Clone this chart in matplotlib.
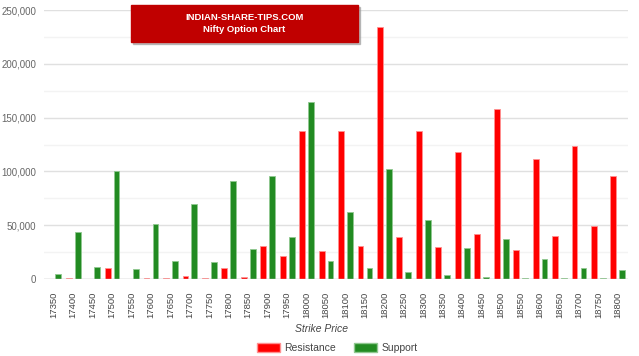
import numpy as np
import matplotlib
matplotlib.use("Agg")
import matplotlib.pyplot as plt
from matplotlib.patches import Rectangle, Patch
from matplotlib.ticker import FuncFormatter, MultipleLocator

plt.rcParams['font.family'] = ['Liberation Sans', 'DejaVu Sans']

# strike prices
strikes = [17350, 17400, 17450, 17500, 17550, 17600, 17650, 17700, 17750, 17800,
           17850, 17900, 17950, 18000, 18050, 18100, 18150, 18200, 18250, 18300,
           18350, 18400, 18450, 18500, 18550, 18600, 18650, 18700, 18750, 18800]

# call OI (resistance)
resistance = [0, 500, 0, 10500, 0, 1000, 500, 3000, 700, 10500,
              1800, 30700, 21000, 138000, 26000, 138000, 31000, 234000, 39000, 137500,
              29700, 118000, 42000, 158000, 27000, 111500, 40000, 123500, 49000, 96000]

# put OI (support)
support = [5000, 44000, 11000, 100500, 9300, 51000, 16400, 69400, 15800, 91300,
           27900, 95400, 39000, 164700, 16400, 62000, 10500, 102000, 6200, 55000,
           3700, 28500, 1900, 37500, 600, 18900, 600, 10500, 800, 8000]

red = '#ff0000'
green = '#228b22'

fig = plt.figure(figsize=(6.39, 3.56), dpi=100)
ax = fig.add_axes([44 / 639, 77 / 356, 583.6 / 639, 269 / 356])

x = np.arange(len(strikes))
bw = 0.3
ax.bar(x - 0.23, resistance, bw, color=red, edgecolor='#ff9090', linewidth=0.6, zorder=3)
ax.bar(x + 0.23, support, bw, color=green, edgecolor='#90c890', linewidth=0.6, zorder=3)

ax.set_xlim(-0.5, len(strikes) - 0.5)
ax.set_ylim(0, 250000)

# grid
ax.yaxis.set_major_locator(MultipleLocator(50000))
ax.yaxis.set_minor_locator(MultipleLocator(25000))
ax.grid(axis='y', which='major', color='#e0e0e0', linewidth=1, zorder=0)
ax.grid(axis='y', which='minor', color='#f3f3f3', linewidth=1, zorder=0)
ax.axhline(0, color='#cccccc', linewidth=1, zorder=4)

for s in ax.spines.values():
    s.set_visible(False)

ax.yaxis.set_major_formatter(FuncFormatter(lambda v, p: '{:,.0f}'.format(v)))
ax.tick_params(axis='y', which='both', length=0, labelsize=7, labelcolor='#666666', pad=5.5)
ax.set_xticks(x)
ax.set_xticklabels([str(s) for s in strikes], rotation=90)
ax.tick_params(axis='x', length=0, labelsize=6.8, labelcolor='#444444', pad=9)

# axis title
fig.text(322 / 639, 1 - 329 / 356, 'Strike Price', fontsize=7.5, style='italic',
         color='#444444', ha='center', va='center')

# title box
fig.patches.append(Rectangle((133 / 639, 1 - 44 / 356), 227 / 639, 37 / 356,
                             transform=fig.transFigure, color='#999999', alpha=0.6, zorder=5))
fig.patches.append(Rectangle((131 / 639, 1 - 42 / 356), 227 / 639, 37 / 356,
                             transform=fig.transFigure, color='#c00000', zorder=6))
fig.text(244.5 / 639, 1 - 17.5 / 356, 'INDIAN-SHARE-TIPS.COM', color='white', fontsize=6.8,
         fontweight='bold', ha='center', va='center', zorder=7)
fig.text(244.5 / 639, 1 - 29 / 356, 'Nifty Option Chart', color='white', fontsize=6.8,
         fontweight='bold', ha='center', va='center', zorder=7)

# legend
handles = [Patch(facecolor=red, edgecolor='#ff9090', label='Resistance'),
           Patch(facecolor=green, edgecolor='#90c890', label='Support')]
fig.legend(handles=handles, loc='center', bbox_to_anchor=(337 / 639, 1 - 348 / 356),
           ncol=2, frameon=False, fontsize=7.5, handlelength=2.2, handleheight=0.9,
           columnspacing=1.8, handletextpad=0.4, labelcolor='#444444')

fig.savefig('out.png', dpi=100)
